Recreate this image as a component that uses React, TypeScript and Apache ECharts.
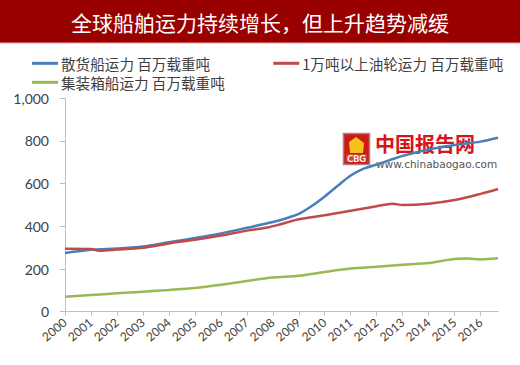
import React, { useEffect, useRef } from "react";
import * as echarts from "echarts";

const titleText = "全球船舶运力持续增长，但上升趋势减缓";
const seriesNames = [
  "散货船运力 百万载重吨",
  "1万吨以上油轮运力 百万载重吨",
  "集装箱船运力 百万载重吨",
];
const yearTicks = [2000, 2001, 2002, 2003, 2004, 2005, 2006, 2007, 2008, 2009, 2010, 2011, 2012, 2013, 2014, 2015, 2016];

const bulkX = [2000, 2001, 2002, 2003, 2004, 2005, 2006, 2007, 2008, 2008.5, 2009, 2009.5, 2010, 2010.5, 2011, 2011.5, 2012, 2012.5, 2013, 2014, 2015, 2016, 2016.67];
const bulkY = [275, 290, 296, 305, 325, 345, 367, 393, 420, 437, 458, 495, 540, 590, 638, 670, 690, 710, 730, 760, 781, 797, 815];

const tankerX = [2000, 2001, 2001.3, 2002, 2003, 2004, 2005, 2006, 2007, 2007.8, 2008.3, 2009, 2010, 2011, 2012, 2012.6, 2013, 2014, 2015, 2016, 2016.67];
const tankerY = [295, 294, 286, 291, 300, 320, 337, 357, 380, 395, 410, 433, 452, 473, 494, 506, 500, 506, 523, 552, 575];

const boxX = [2000, 2001, 2002, 2003, 2004, 2005, 2006, 2007, 2008, 2009, 2010, 2011, 2012, 2013, 2014, 2014.5, 2015, 2015.5, 2016, 2016.67];
const boxY = [70, 78, 86, 94, 102, 111, 126, 144, 160, 168, 186, 202, 211, 220, 228, 238, 247, 249, 245, 250];

const colors = ["#4a7ebb", "#be4b48", "#98b954"];

const pairs = (xs: number[], ys: number[]) => xs.map((x, i) => [x, ys[i]]);

export default function App() {
  const ref = useRef<HTMLDivElement>(null);
  useEffect(() => {
    if (!ref.current) return;
    const chart = echarts.init(ref.current, undefined, { renderer: "svg" });
    const cjk = "'Noto Sans CJK SC', sans-serif";
    const num = "Lato, 'Noto Sans CJK SC', sans-serif";
    const legendText = { fontFamily: cjk, fontSize: 14.6, color: "#404040", padding: [0, 0, 0, -2] };
    chart.setOption({
      animation: false,
      backgroundColor: "#ffffff",
      grid: { left: 65, right: 22, top: 98.3, bottom: 53.3, containLabel: false },
      legend: [
        {
          data: [seriesNames[0], seriesNames[1]],
          left: 27,
          top: 51,
          itemGap: 63,
          itemWidth: 26,
          itemHeight: 3,
          icon: "rect",
          textStyle: legendText,
        },
        {
          data: [seriesNames[2]],
          left: 27,
          top: 70,
          itemWidth: 26,
          itemHeight: 3,
          icon: "rect",
          textStyle: legendText,
        },
      ],
      xAxis: {
        type: "value",
        min: 2000,
        max: 2016.67,
        splitLine: { show: false },
        axisLine: { lineStyle: { color: "#bfbfbf", width: 1 } },
        axisTick: { show: true, length: 4, customValues: yearTicks, lineStyle: { color: "#bfbfbf" } },
        axisLabel: {
          customValues: yearTicks,
          rotate: 40,
          margin: 9,
          fontFamily: num,
          fontSize: 12,
          color: "#404040",
          formatter: (v: number) => String(Math.round(v)),
        },
      },
      yAxis: {
        type: "value",
        min: 0,
        max: 1000,
        interval: 200,
        splitLine: { show: false },
        axisLine: { show: true, lineStyle: { color: "#bfbfbf", width: 1 } },
        axisTick: { show: true, length: 5, lineStyle: { color: "#bfbfbf" } },
        axisLabel: {
          margin: 16,
          fontFamily: num,
          fontSize: 14,
          color: "#404040",
          formatter: (v: number) => v.toLocaleString("en-US"),
        },
      },
      graphic: [
        { type: "rect", shape: { x: 0, y: 0, width: 520, height: 42 }, style: { fill: "#990000" } },
        { type: "rect", shape: { x: 0, y: 42, width: 520, height: 1.2 }, style: { fill: "#c85050" } },
        {
          type: "text",
          x: 260,
          y: 22,
          style: {
            text: titleText,
            fill: "#ffffff",
            font: "21px 'Noto Sans CJK SC', sans-serif",
            textAlign: "center",
            textVerticalAlign: "middle",
          },
        },
        { type: "rect", shape: { x: 343.5, y: 133.5, width: 26, height: 31 }, style: { fill: "#cc1b14", stroke: "#b08080", lineWidth: 1.5 } },
        { type: "polygon", shape: { points: [[349, 142], [356, 137], [364, 143], [363, 153], [350, 153]] }, style: { fill: "#f2c21b" } },
        { type: "rect", shape: { x: 346, y: 154, width: 21, height: 8 }, style: { fill: "#ffffff", opacity: 0.15 } },
        {
          type: "text",
          x: 356.5,
          y: 158.5,
          style: { text: "CBG", fill: "#ffffff", font: "bold 9px Lato, sans-serif", textAlign: "center", textVerticalAlign: "middle" },
        },
        {
          type: "text",
          x: 375,
          y: 143,
          style: { text: "中国报告网", fill: "#d8141a", font: "bold 20px 'Noto Sans CJK SC', sans-serif", lineHeight: 20, textAlign: "left", textVerticalAlign: "middle" },
        },
        {
          type: "text",
          x: 376,
          y: 163.5,
          style: { text: "www.chinabaogao.com", fill: "#555555", font: "10.5px 'DejaVu Sans', sans-serif", lineHeight: 10, textAlign: "left", textVerticalAlign: "middle" },
        },
      ],
      series: [
        {
          name: seriesNames[0],
          type: "line",
          data: pairs(bulkX, bulkY),
          smooth: 0.3,
          showSymbol: false,
          z: 3,
          lineStyle: { color: colors[0], width: 2.5 },
          itemStyle: { color: colors[0] },
        },
        {
          name: seriesNames[1],
          type: "line",
          data: pairs(tankerX, tankerY),
          smooth: 0.3,
          showSymbol: false,
          z: 4,
          lineStyle: { color: colors[1], width: 2.5 },
          itemStyle: { color: colors[1] },
        },
        {
          name: seriesNames[2],
          type: "line",
          data: pairs(boxX, boxY),
          smooth: 0.3,
          showSymbol: false,
          lineStyle: { color: colors[2], width: 2.5 },
          itemStyle: { color: colors[2] },
        },
      ],
    });
    return () => chart.dispose();
  }, []);
  return <div ref={ref} style={{ position: "fixed", left: 0, top: 0, width: 520, height: 365 }} />;
}
